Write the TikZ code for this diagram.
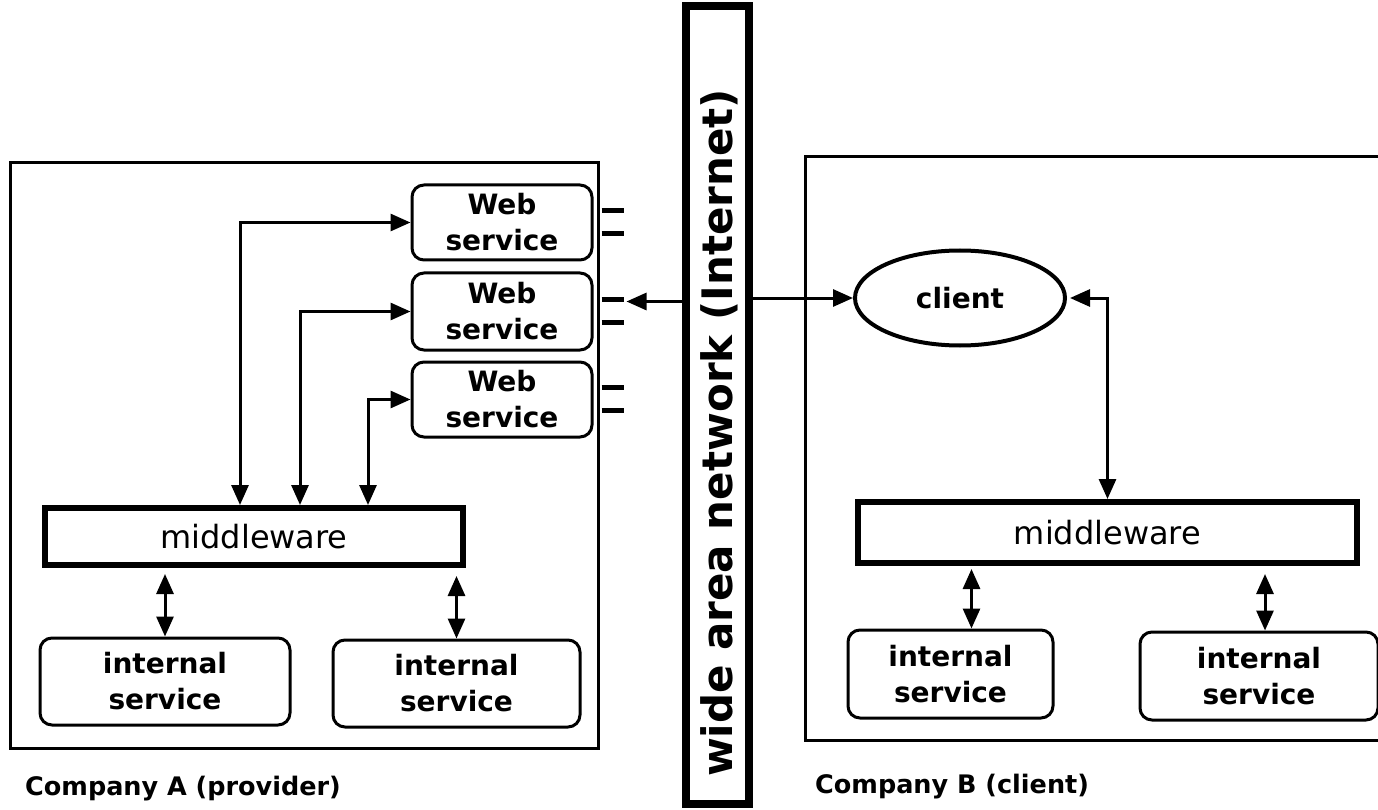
\documentclass[tikz,border=0pt]{standalone}
\usepackage{fontspec}
\setmainfont{DejaVu Sans}
\usetikzlibrary{arrows.meta,shapes.geometric}
\begin{document}
\begin{tikzpicture}[x=1pt,y=-1pt,
  company/.style={draw,line width=3pt,inner sep=0pt},
  wsbox/.style={draw,line width=3pt,rounded corners=12pt,inner sep=0pt,align=center,
    font=\fontsize{28}{36}\selectfont\bfseries},
  mwbox/.style={draw,line width=6pt,inner sep=0pt,font=\fontsize{32}{36}\selectfont},
  wanbar/.style={draw,line width=8pt,inner sep=0pt},
  arr/.style={line width=3pt,-{Triangle[length=20pt,width=17pt]}},
  dbl/.style={line width=3pt,{Triangle[length=20pt,width=17pt]}-{Triangle[length=20pt,width=17pt]}},
  stub/.style={line width=5pt},
  label/.style={font=\fontsize{25.5}{30}\selectfont\bfseries,inner sep=0pt}]
\useasboundingbox (0,0) rectangle (1378,810);
% company boxes
\node[company,minimum width=588pt,minimum height=585pt] (compA) at (304,455.5) {};
\node[company,minimum width=600pt,minimum height=583pt] (compB) at (1105,448.5) {};
% WAN bar
\node[wanbar,minimum width=63pt,minimum height=798pt] (wan) at (717.5,405) {};
\node[rotate=90,font=\fontsize{42}{44}\selectfont\bfseries,inner sep=0pt] (wantext) at (719,433) {wide area network (Internet)};
% web services
\node[wsbox,minimum width=180pt,minimum height=75pt] (web1) at (502,222.5) {Web\\service};
\node[wsbox,minimum width=180pt,minimum height=77pt] (web2) at (502,311.5) {Web\\service};
\node[wsbox,minimum width=180pt,minimum height=75pt] (web3) at (502,399.5) {Web\\service};
% middleware
\node[mwbox,minimum width=418pt,minimum height=57pt] (mwA) at (254,536.5) {middleware};
\node[mwbox,minimum width=499pt,minimum height=61pt] (mwB) at (1107.5,532.5) {middleware};
% internal services
\node[wsbox,minimum width=250pt,minimum height=87pt] (intA1) at (165,681.5) {internal\\service};
\node[wsbox,minimum width=247pt,minimum height=87pt] (intA2) at (456.5,683.5) {internal\\service};
\node[wsbox,minimum width=205pt,minimum height=88pt] (intB1) at (950.5,674) {internal\\service};
\node[wsbox,minimum width=238pt,minimum height=88pt] (intB2) at (1259,676) {internal\\service};
% client
\node[draw,ellipse,line width=4pt,minimum width=210pt,minimum height=95pt,inner sep=0pt,
  font=\fontsize{28}{32}\selectfont\bfseries] (client) at (960,298) {client};
% stubs
\foreach \w in {web1,web2,web3}{
  \draw[stub] ([shift={(8,-12)}]\w.east) -- ++(22,0);
  \draw[stub] ([shift={(8,11)}]\w.east) -- ++(22,0);
}
% arrows company A
\draw[dbl] ([xshift=-14pt]mwA.north) |- (web1.west);
\draw[dbl] ([xshift=46pt]mwA.north) |- (web2.west);
\draw[dbl] ([xshift=114pt]mwA.north) |- (web3.west);
\draw[dbl,shorten <=6pt] (mwA.south -| intA1.north) -- (intA1.north);
\draw[dbl,shorten <=8pt] (mwA.south -| intA2.north) -- (intA2.north);
% WAN arrows
\coordinate (wtip) at ([shift={(33,-10)}]web2.east);
\draw[arr] (wan.west |- wtip) -- (wtip);
\draw[arr] (wan.east |- client.west) -- (client.west);
% company B arrows
\draw[dbl,shorten <=3pt] (client.east) -| (mwB.north);
\coordinate (b1) at ([xshift=21pt]intB1.north);
\coordinate (b2) at ([xshift=6pt]intB2.north);
\draw[dbl,shorten <=3pt] (mwB.south -| b1) -- (b1);
\draw[dbl,shorten <=8pt] (mwB.south -| b2) -- (b2);
% labels
\node[label,anchor=base west] (labA) at (25,795) {Company A (provider)};
\node[label,anchor=base west] (labB) at (815,793) {Company B (client)};
\end{tikzpicture}
\end{document}
